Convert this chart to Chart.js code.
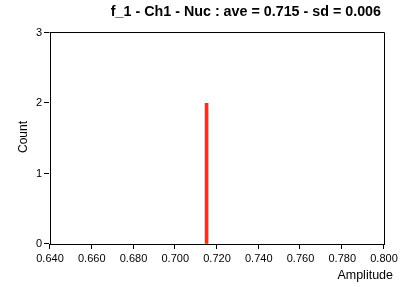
<!DOCTYPE html>
<html>
<head>
<meta charset="utf-8">
<script src="https://cdn.jsdelivr.net/npm/chart.js@4/dist/chart.umd.min.js"></script>
<style>
  html, body { margin: 0; padding: 0; background: #fff; }
  #wrap { width: 408px; height: 287px; }
</style>
</head>
<body>
<div id="wrap"><canvas id="histChart" width="408" height="287"></canvas></div>
<script>
// data
const chartTitle = 'f_1 - Ch1 - Nuc : ave = 0.715 - sd = 0.006';
const xLabel = 'Amplitude';
const yLabel = 'Count';
const binCenters = [0.715];
const binCounts = [2];
const xMin = 0.64, xMax = 0.8, xStep = 0.02;
const yMin = 0, yMax = 3, yStep = 1;

const FONT = 'Liberation Sans';
const INK = '#000';

// title, axis titles, tick marks and the closed frame round the plot
const framePlugin = {
  id: 'frame',
  afterDraw(chart) {
    const { ctx, chartArea: a, scales } = chart;
    ctx.save();
    ctx.strokeStyle = '#000';
    ctx.lineWidth = 1;
    ctx.beginPath();
    ctx.moveTo(a.left - 0.5, a.top - 0.5);
    ctx.lineTo(a.right + 0.5, a.top - 0.5);
    ctx.lineTo(a.right + 0.5, a.bottom);
    // tick marks, placed by the scales
    scales.x.ticks.forEach((t) => {
      const px = Math.round(scales.x.getPixelForValue(t.value)) - 0.5;
      ctx.moveTo(px, a.bottom);
      ctx.lineTo(px, a.bottom + 5);
    });
    scales.y.ticks.forEach((t) => {
      const py = Math.round(scales.y.getPixelForValue(t.value)) - 0.5;
      ctx.moveTo(a.left - 1, py);
      ctx.lineTo(a.left - 6, py);
    });
    ctx.stroke();

    ctx.fillStyle = INK;
    ctx.font = `bold 14.3px "${FONT}"`;
    ctx.textAlign = 'right';
    ctx.textBaseline = 'middle';
    ctx.fillText(chartTitle, 381, 12);

    ctx.font = `12.5px "${FONT}"`;
    ctx.fillText(xLabel, 393, 276);

    ctx.font = `12px "${FONT}"`;
    ctx.translate(24, 137);
    ctx.rotate(-Math.PI / 2);
    ctx.textAlign = 'center';
    ctx.fillText(yLabel, 0, 0);
    ctx.restore();
  },
};

const ctx = document.getElementById('histChart').getContext('2d');

const config = {
  type: 'bar',
  data: {
    datasets: [
      {
        data: binCenters.map((x, i) => ({ x, y: binCounts[i] })),
        backgroundColor: '#ff2d17',
        borderWidth: 0,
        barThickness: 3,
      },
    ],
  },
  options: {
    responsive: false,
    animation: false,
    layout: {
      padding: { top: 33, right: 24, left: 0, bottom: 0 },
    },
    scales: {
      x: {
        type: 'linear',
        offset: false,
        min: xMin,
        max: xMax,
        afterFit: (scale) => { scale.height = 43; },
        ticks: {
          stepSize: xStep,
          maxRotation: 0,
          autoSkip: false,
          padding: 3,
          color: INK,
          font: { family: FONT, size: 11 },
          callback: (value) => Number(value).toFixed(3),
        },
        grid: {
          offset: false,
          drawOnChartArea: false,
          drawTicks: true,
          tickLength: 5,
          color: 'rgba(0,0,0,0)',
        },
        border: { display: true, color: '#000', width: 1 },
      },
      y: {
        min: yMin,
        max: yMax,
        afterFit: (scale) => { scale.width = 50; },
        ticks: {
          stepSize: yStep,
          padding: 3,
          color: INK,
          font: { family: FONT, size: 11 },
        },
        grid: {
          drawOnChartArea: false,
          drawTicks: true,
          tickLength: 5,
          color: 'rgba(0,0,0,0)',
        },
        border: { display: true, color: '#000', width: 1 },
      },
    },
    plugins: {
      legend: { display: false },
      tooltip: { enabled: false },
      title: { display: false },
    },
  },
  plugins: [framePlugin],
};

new Chart(ctx, config);
</script>
</body>
</html>
